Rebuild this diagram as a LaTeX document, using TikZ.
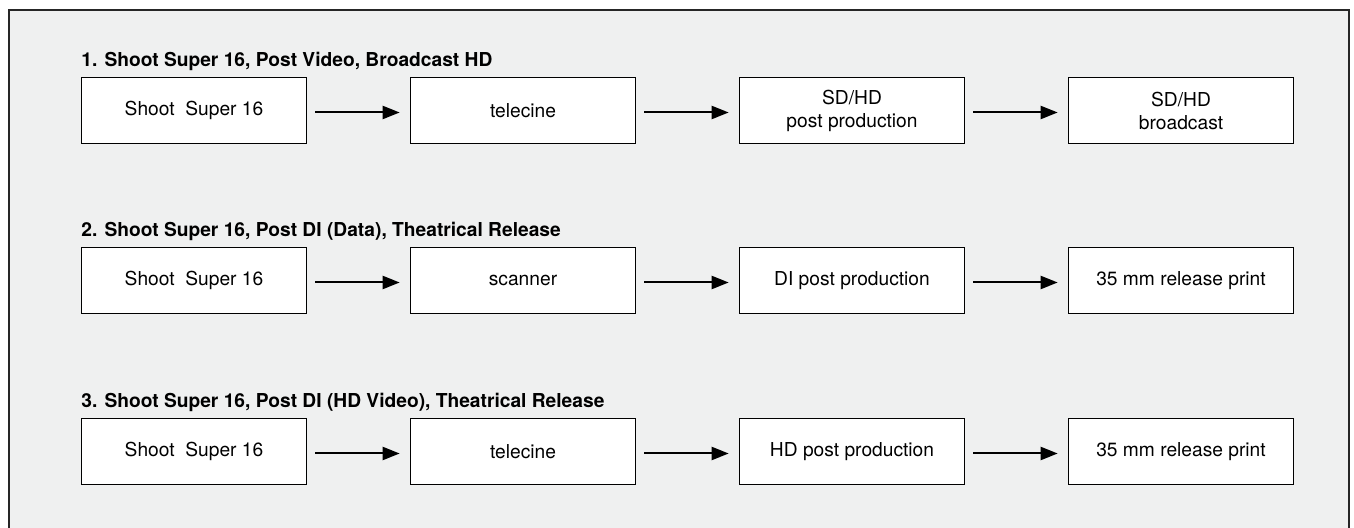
\documentclass[tikz,border=0pt]{standalone}
\usepackage{fontspec}
\setmainfont{TeX Gyre Heros}
\usetikzlibrary{arrows.meta}
\definecolor{panelgray}{HTML}{EFF0F0}
\tikzset{
	stagebox/.style={draw=black, fill=white, line width=0.8pt, minimum width=112.5pt, minimum height=33pt, align=center, inner sep=0pt, font=\fontsize{9.6}{11.5}\selectfont},
	rowtitle/.style={anchor=base west, inner sep=0pt, font=\fontsize{9.6}{11.5}\selectfont\bfseries},
	flow/.style={line width=1pt, -{Triangle[length=8.5pt,width=6.5pt]}, shorten <=4pt, shorten >=5pt},
}

\begin{document}
\begin{tikzpicture}[x=0.5pt, y=-0.5pt]
			%%%%% START %%%%%
			
			\useasboundingbox (0, 0) rectangle (1354, 528);
			\draw[fill=panelgray, draw=black!85, line width=0.6pt] (9, 10) rectangle (1349, 560);
			
			% row 1
			\node[rowtitle] (titleA) at (81, 67) {1. Shoot Super 16, Post Video, Broadcast HD};
			\node[stagebox] (shootA) at (194, 110.5) {Shoot~ Super 16};
			\node[stagebox] (teleA) at (523, 110.5) {telecine};
			\node[stagebox] (postA) at (852, 110.5) {SD/HD\\post production};
			\node[stagebox] (castA) at (1181, 110.5) {SD/HD\\broadcast};
			\draw[flow] ([yshift=-1pt]shootA.east) -- ([yshift=-1pt]teleA.west);
			\draw[flow] ([yshift=-1pt]teleA.east) -- ([yshift=-1pt]postA.west);
			\draw[flow] ([yshift=-1pt]postA.east) -- ([yshift=-1pt]castA.west);
			
			% row 2
			\node[rowtitle] (titleB) at (81, 237) {2. Shoot Super 16, Post DI (Data), Theatrical Release};
			\node[stagebox] (shootB) at (194, 280.5) {Shoot~ Super 16};
			\node[stagebox] (scanB) at (523, 280.5) {scanner};
			\node[stagebox] (postB) at (852, 280.5) {DI post production};
			\node[stagebox] (printB) at (1181, 280.5) {35 mm release print};
			\draw[flow] ([yshift=-1pt]shootB.east) -- ([yshift=-1pt]scanB.west);
			\draw[flow] ([yshift=-1pt]scanB.east) -- ([yshift=-1pt]postB.west);
			\draw[flow] ([yshift=-1pt]postB.east) -- ([yshift=-1pt]printB.west);
			
			% row 3
			\node[rowtitle] (titleC) at (81, 408) {3. Shoot Super 16, Post DI (HD Video), Theatrical Release};
			\node[stagebox] (shootC) at (194, 451.5) {Shoot~ Super 16};
			\node[stagebox] (teleC) at (523, 451.5) {telecine};
			\node[stagebox] (postC) at (852, 451.5) {HD post production};
			\node[stagebox] (printC) at (1181, 451.5) {35 mm release print};
			\draw[flow] ([yshift=-1pt]shootC.east) -- ([yshift=-1pt]teleC.west);
			\draw[flow] ([yshift=-1pt]teleC.east) -- ([yshift=-1pt]postC.west);
			\draw[flow] ([yshift=-1pt]postC.east) -- ([yshift=-1pt]printC.west);
			
			%%%%% END %%%%%
\end{tikzpicture}
\end{document}
